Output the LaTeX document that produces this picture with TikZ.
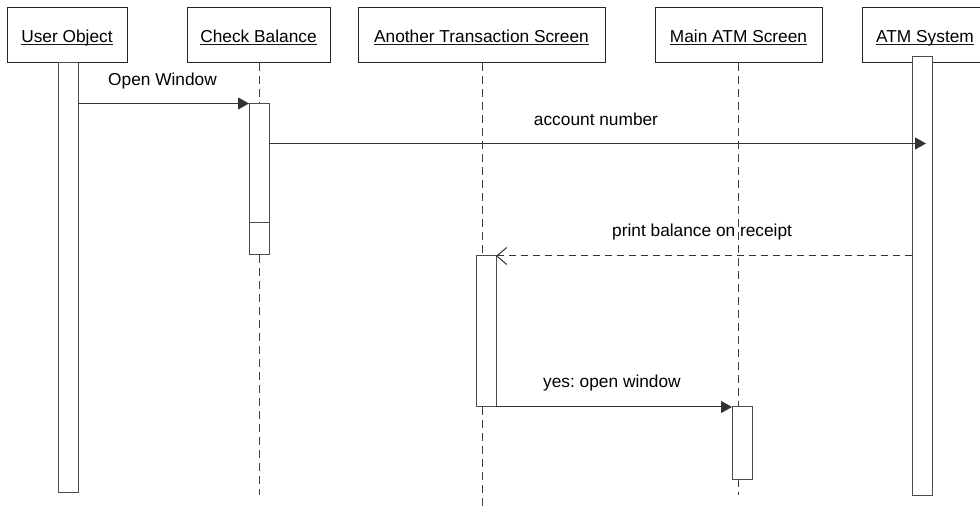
\documentclass[tikz,border=0pt]{standalone}
\usepackage{fontspec}
\setmainfont{Liberation Sans}
\usetikzlibrary{arrows.meta}
\frenchspacing
\tikzset{
  hdr/.style={draw=black!85, line width=1pt, fill=white, inner sep=0pt, minimum height=55pt},
  lbl/.style={inner sep=0pt, font=\fontsize{17.3}{20}\selectfont, text=black},
  act/.style={draw=black!70, line width=1pt, fill=white},
  life/.style={draw=black!75, line width=1pt, dash pattern=on 8pt off 5pt},
  msg/.style={draw=black!80, line width=1pt, -{Triangle[length=11pt,width=12pt]}},
  ret/.style={draw=black!80, line width=1pt, dash pattern=on 7pt off 5pt, -{Straight Barb[length=10pt,width=17pt,line width=1pt]}},
  ul/.style={draw=black!90, line width=1pt}
}
\begin{document}
\begin{tikzpicture}[x=1pt,y=-1pt]
\useasboundingbox (0,0) rectangle (980,510);
% lifelines (dashed)
\coordinate (cbTop) at (259,63);
\coordinate (cbA) at (259,104);
\coordinate (cbB) at (259,255);
\coordinate (cbEnd) at (259,495);
\coordinate (atTop) at (482,63);
\coordinate (atA) at (482,256);
\coordinate (atB) at (482,407);
\coordinate (atEnd) at (482,512);
\coordinate (maTop) at (738,63);
\coordinate (maA) at (738,407);
\coordinate (maB) at (738,479);
\coordinate (maEnd) at (738,495);
\draw[life] (cbTop) -- (cbA);
\draw[life] (cbB) -- (cbEnd);
\draw[life] (atTop) -- (atA);
\draw[life] (atB) -- (atEnd);
\draw[life] (maTop) -- (maA);
\draw[life] (maB) -- (maEnd);
% header boxes
\node[hdr, minimum width=120pt] (h1) at (67,35.5) {};
\node[hdr, minimum width=143pt] (h2) at (258.5,35.5) {};
\node[hdr, minimum width=247pt] (h3) at (481.5,35.5) {};
\node[hdr, minimum width=167pt] (h4) at (738.5,35.5) {};
\node[hdr, minimum width=120pt] (h5) at (922,35.5) {};
% activation boxes
\draw[act] (58,63) rectangle (78,492);
\draw[act] (249,104) rectangle (269,255);
\draw[act] (249,223) -- (269,223);
\draw[act] (476,256) rectangle (496,407);
\draw[act] (732,407) rectangle (752,479);
\draw[act] (912,57) rectangle (932,495);
% header texts
\node[lbl, anchor=base] (t1) at (67,42.5) {User Object};
\node[lbl, anchor=base] (t2) at (258.5,42.5) {Check Balance};
\node[lbl, anchor=base] (t3) at (481.5,42.5) {Another Transaction Screen};
\node[lbl, anchor=base] (t4) at (738.5,42.5) {Main ATM Screen};
\node[lbl, anchor=base] (t5) at (925,42.5) {ATM System};
\foreach \t in {t1,t2,t3,t4,t5}{
  \draw[ul] ([yshift=-2pt]\t.base west) -- ([yshift=-2pt]\t.base east);
}
% messages
\coordinate (m1s) at (78,103.5);
\coordinate (m1e) at (249,103.5);
\draw[msg] (m1s) -- (m1e);
\node[lbl, anchor=base west] (l1) at (108,86) {Open Window};
\coordinate (m2s) at (269,143.5);
\coordinate (m2e) at (926,143.5);
\draw[msg] (m2s) -- (m2e);
\node[lbl, anchor=base] (l2) at (596,126) {account number};
\coordinate (m3s) at (912,256);
\coordinate (m3e) at (496,256);
\draw[ret] (m3s) -- (m3e);
\node[lbl, anchor=base west] (l3) at (612,237) {print balance on receipt};
\coordinate (m4s) at (496,407);
\coordinate (m4e) at (732,407);
\draw[msg] (m4s) -- (m4e);
\node[lbl, anchor=base west] (l4) at (543,388) {yes: open window};
\end{tikzpicture}
\end{document}
